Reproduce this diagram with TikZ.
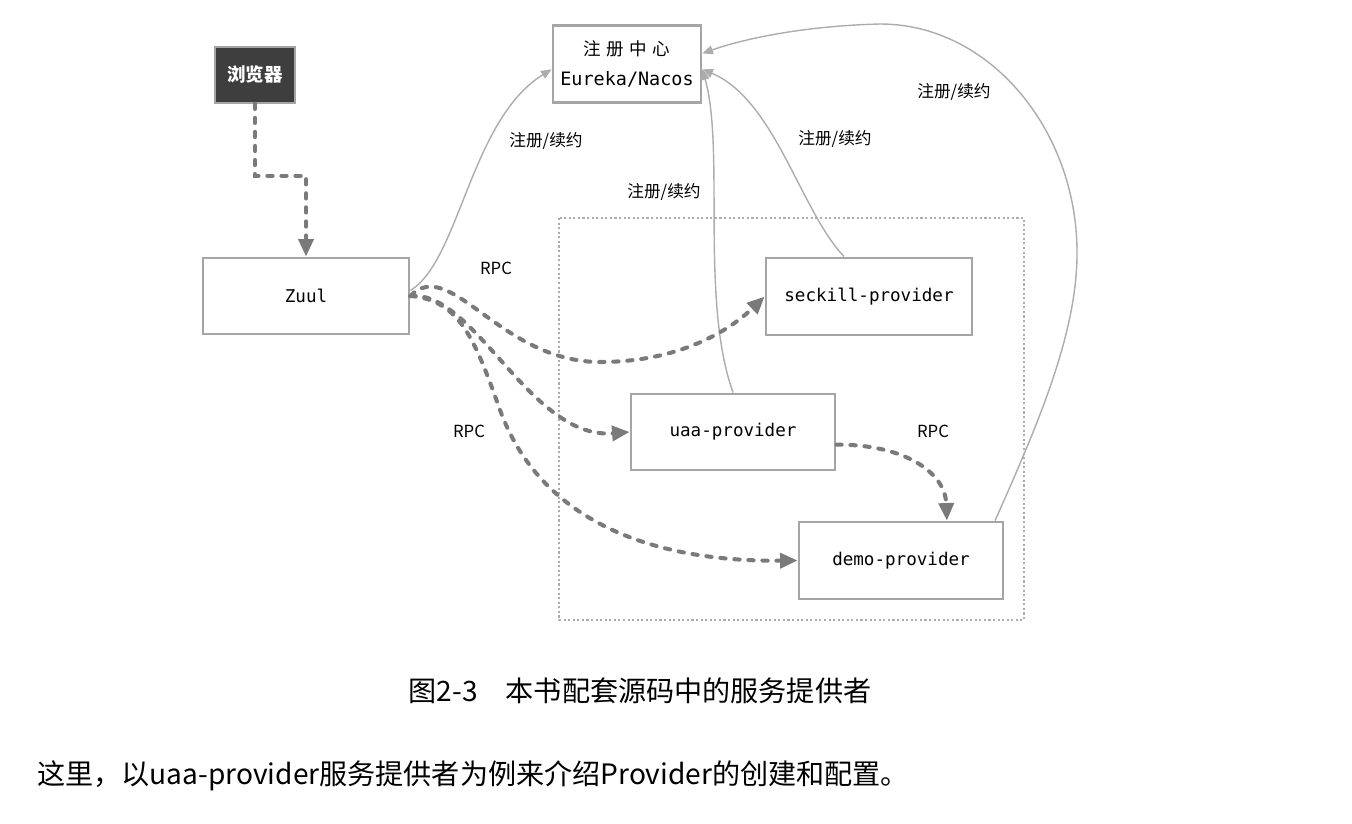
\documentclass[tikz,border=0pt]{standalone}
\usepackage{fontspec}
\setmainfont{Noto Sans CJK SC}
\newfontfamily\cjkwide[LetterSpace=30]{Noto Sans CJK SC}
\newfontfamily\boxmono{DejaVu Sans Mono}
\usetikzlibrary{arrows.meta}
\definecolor{boxgray}{RGB}{165,165,165}
\definecolor{linegray}{RGB}{172,172,172}
\definecolor{rpcgray}{RGB}{122,122,122}
\definecolor{darkbox}{RGB}{62,62,62}

\begin{document}
\begin{tikzpicture}[x=0.02cm, y=-0.02cm,
    svc/.style={draw=boxgray, line width=1.6pt, fill=white, font=\boxmono\fontsize{10}{16}\selectfont},
    reg/.style={draw=linegray, line width=0.8pt, -{Triangle[length=6pt,width=5pt]}},
    rpc/.style={draw=rpcgray, line width=2.3pt, line cap=round, dash pattern=on 3pt off 5pt, -{Triangle[length=10pt,width=8.5pt]}},
    lbl/.style={font=\fontsize{9.5}{11}\selectfont, inner sep=0pt}]

    \useasboundingbox (0,0) rectangle (1352,824);

    % Khung nhóm provider
    \draw[linegray, line width=0.6pt, dash pattern=on 1.2pt off 1.4pt] (559,218) rectangle (1024,620);

    % Các nút
    \node[fill=darkbox, draw=boxgray, line width=0.8pt, minimum width=1.6cm, minimum height=1.12cm,
          text=white, font=\bfseries\fontsize{10.5}{12}\selectfont] (browser) at (255,75) {浏览器};
    \node[svc, minimum width=2.96cm, minimum height=1.54cm, align=center, font=\boxmono\fontsize{10.5}{17}\selectfont] (registry) at (627,64)
        {{\cjkwide\fontsize{10}{12}\selectfont 注册中心}\\Eureka/Nacos};
    \node[svc, minimum width=4.12cm, minimum height=1.52cm] (zuul) at (306,296) {Zuul};
    \node[svc, minimum width=4.12cm, minimum height=1.54cm] (seckill) at (869,296.5) {seckill-provider};
    \node[svc, minimum width=4.08cm, minimum height=1.52cm] (uaa) at (733,432) {uaa-provider};
    \node[svc, minimum width=4.08cm, minimum height=1.54cm] (demo) at (901,560.5) {demo-provider};

    % Nhãn
    \node[lbl] (regA) at (546,141) {注册/续约};
    \node[lbl] (regB) at (664,192) {注册/续约};
    \node[lbl] (regC) at (835,139) {注册/续约};
    \node[lbl] (regD) at (954,92) {注册/续约};
    \node[lbl] (rpcA) at (496,268) {RPC};
    \node[lbl] (rpcB) at (469,431) {RPC};
    \node[lbl] (rpcC) at (933,431) {RPC};

    % Trình duyệt -> Zuul
    \draw[rpc] (browser.south) -- ++(0,72) -| (zuul.north);

    % Đăng ký / gia hạn
    \draw[reg] (zuul.3) .. controls (460,260) and (470,120) .. (registry.184);
    \draw[reg] (uaa.north) .. controls (700,300) and (725,150) .. (registry.-4);
    \draw[reg] (seckill.122) .. controls (800,210) and (775,100) .. (registry.-4);
    \draw[reg] (demo.23) .. controls (1040,420) and (1078,330) .. (1077,250)
        .. controls (1076,130) and (990,24) .. (880,24)
        .. controls (800,26) and (740,40) .. (registry.8);

    % Gọi RPC
    \draw[rpc] (zuul.east) .. controls (450,255) and (500,362) .. (600,362)
        .. controls (680,362) and (730,330) .. (seckill.west);
    \draw[rpc] (zuul.east) .. controls (475,290) and (530,440) .. (uaa.west);
    \draw[rpc] (zuul.east) .. controls (460,300) and (475,340) .. (500,410)
        .. controls (540,520) and (650,562) .. (demo.west);
    \draw[rpc] (uaa.-7) .. controls (900,444) and (945,470) .. (demo.41);

    % Chú thích
    \node[font=\fontsize{16}{19}\selectfont] (caption) at (640,691) {图2-3　本书配套源码中的服务提供者};
    \node[anchor=west, inner sep=0pt, font=\fontsize{16}{19}\selectfont] (para) at (37,776)
        {这里，以uaa-provider服务提供者为例来介绍Provider的创建和配置。};

\end{tikzpicture}
\end{document}
